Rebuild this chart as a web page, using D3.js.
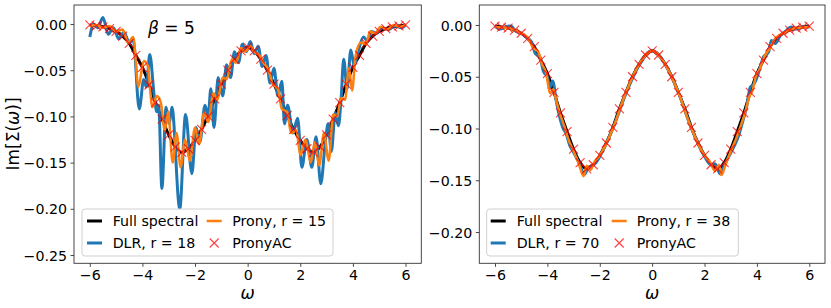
<!DOCTYPE html>
<html><head><meta charset="utf-8">
<script src="https://cdn.jsdelivr.net/npm/d3@7"></script>
<style>
html,body{margin:0;padding:0;background:#fff;}
svg{display:block;font-family:"DejaVu Sans",sans-serif;}
</style></head>
<body><svg id="c" width="831" height="308"></svg>
<script>
// ---------- data ----------
const xTicks = [-6, -4, -2, 0, 2, 4, 6];
const yTicksLeft = [0, -0.05, -0.10, -0.15, -0.20, -0.25];
const yTicksRight = [0, -0.05, -0.10, -0.15, -0.20];

const omegaGrid = [-6,-5.75,-5.5,-5.25,-5,-4.75,-4.5,-4.25,-4,-3.75,-3.5,-3.25,-3,-2.75,-2.5,-2.25,-2,-1.75,-1.5,-1.25,-1,-0.75,-0.5,-0.25,0,
  0.25,0.5,0.75,1,1.25,1.5,1.75,2,2.25,2.5,2.75,3,3.25,3.5,3.75,4,4.25,4.5,4.75,5,5.25,5.5,5.75,6];
const fullSpectral = [-0.001,-0.002,-0.003,-0.005,-0.008,-0.013,-0.021,-0.034,-0.047,-0.065,-0.085,-0.103,-0.120,-0.133,-0.139,-0.135,-0.126,-0.114,-0.099,-0.081,-0.065,-0.050,-0.038,-0.029,-0.025,
  -0.029,-0.038,-0.050,-0.065,-0.081,-0.099,-0.114,-0.126,-0.135,-0.139,-0.133,-0.120,-0.103,-0.085,-0.065,-0.047,-0.034,-0.021,-0.013,-0.008,-0.005,-0.003,-0.002,-0.001];
const pronyACLeft = [-0.001,-0.002,-0.003,-0.005,-0.008,-0.013,-0.021,-0.034,-0.047,-0.066,-0.085,-0.103,-0.120,-0.133,-0.139,-0.135,-0.126,-0.114,-0.100,-0.081,-0.065,-0.050,-0.038,-0.029,-0.025,
  -0.029,-0.038,-0.050,-0.065,-0.081,-0.099,-0.114,-0.126,-0.135,-0.139,-0.133,-0.120,-0.103,-0.085,-0.065,-0.047,-0.034,-0.021,-0.013,-0.008,-0.005,-0.003,-0.002,-0.001];
const pronyACRight = [-0.001,-0.002,-0.003,-0.005,-0.008,-0.013,-0.021,-0.034,-0.047,-0.065,-0.085,-0.103,-0.120,-0.133,-0.139,-0.135,-0.126,-0.114,-0.099,-0.081,-0.065,-0.050,-0.038,-0.029,-0.025,
  -0.029,-0.038,-0.050,-0.065,-0.081,-0.099,-0.114,-0.126,-0.135,-0.139,-0.133,-0.120,-0.103,-0.085,-0.065,-0.047,-0.034,-0.021,-0.013,-0.008,-0.005,-0.003,-0.002,-0.001];

// left panel (beta = 5), DLR r = 18
const dlrLeftOmega = [-6,-5.85,-5.7,-5.5,-5.3,-5.1,-4.9,-4.7,-4.5,-4.35,-4.12,-3.95,-3.85,-3.72,-3.55,-3.45,-3.38,-3.26,-3.1,-2.98,-2.88,-2.58,-2.36,-2.12,-1.96,-1.82,-1.62,-1.5,-1.4,-1.28,-1.12,-0.95,-0.8,-0.65,-0.5,-0.35,-0.2,-0.05,
  0.1,0.25,0.4,0.55,0.7,0.85,1,1.15,1.3,1.4,1.52,1.72,1.9,2.06,2.25,2.44,2.6,2.78,2.95,3.06,3.18,3.33,3.45,3.55,3.65,3.78,3.92,4.05,4.2,4.4,4.55,4.7,4.9,5.1,5.35,5.6,5.85,6];
const dlrLeftValue = [-0.014,0.000,-0.004,0.007,-0.011,-0.004,-0.016,-0.009,-0.020,-0.017,-0.092,-0.060,-0.068,-0.033,-0.078,-0.095,-0.088,-0.178,-0.090,-0.108,-0.090,-0.200,-0.098,-0.162,-0.112,-0.128,-0.088,-0.100,-0.070,-0.112,-0.058,-0.078,-0.044,-0.058,-0.030,-0.042,-0.022,-0.030,
  -0.019,-0.032,-0.024,-0.046,-0.034,-0.064,-0.048,-0.078,-0.062,-0.108,-0.088,-0.118,-0.102,-0.155,-0.125,-0.155,-0.122,-0.173,-0.128,-0.108,-0.138,-0.096,-0.110,-0.082,-0.038,-0.070,-0.028,-0.045,-0.030,-0.014,-0.018,-0.008,-0.010,-0.004,-0.006,-0.002,-0.004,-0.001];
// left panel, Prony r = 15
const pronyLeftOmega = [-6,-5.75,-5.5,-5.25,-5,-4.75,-4.55,-4.35,-4.15,-3.95,-3.8,-3.62,-3.45,-3.3,-3.15,-3.02,-2.85,-2.7,-2.55,-2.38,-2.2,-2,-1.85,-1.65,-1.5,-1.3,-1.15,-0.95,-0.8,-0.6,-0.45,-0.25,-0.1,
  0.1,0.25,0.45,0.6,0.8,0.95,1.15,1.3,1.5,1.65,1.85,2,2.2,2.4,2.55,2.72,2.9,3.08,3.25,3.4,3.55,3.7,3.85,3.97,4.1,4.3,4.5,4.65,4.85,5.05,5.3,5.55,5.8,6];
const pronyLeftValue = [-0.002,-0.001,-0.004,-0.002,-0.008,-0.006,-0.020,-0.014,-0.068,-0.040,-0.045,-0.090,-0.078,-0.085,-0.115,-0.095,-0.150,-0.118,-0.155,-0.125,-0.148,-0.112,-0.130,-0.096,-0.106,-0.075,-0.082,-0.058,-0.060,-0.038,-0.042,-0.026,-0.030,
  -0.024,-0.030,-0.034,-0.042,-0.050,-0.065,-0.070,-0.092,-0.095,-0.118,-0.115,-0.142,-0.125,-0.150,-0.128,-0.153,-0.118,-0.148,-0.098,-0.100,-0.080,-0.082,-0.048,-0.072,-0.035,-0.020,-0.022,-0.008,-0.010,-0.003,-0.006,-0.001,-0.003,-0.001];

// right panel, DLR r = 70
const dlrRightOmega = [-6,-5.8,-5.6,-5.4,-5.2,-5,-4.8,-4.62,-4.45,-4.3,-4.15,-4,-3.9,-3.8,-3.65,-3.52,-3.4,-3.3,-3.15,-3,-2.8,-2.58,-2.45,-2.3,-2.15,-2,-1.5,-1,-0.5,0,
  0.5,1,1.5,2,2.25,2.4,2.6,2.75,2.95,3.15,3.3,3.45,3.6,3.75,3.85,3.95,4.1,4.25,4.45,4.55,4.7,4.9,5.1,5.3,5.5,5.75,6];
const dlrRightValue = [-0.001,-0.004,-0.002,-0.001,-0.006,-0.008,-0.012,-0.016,-0.028,-0.030,-0.045,-0.050,-0.060,-0.054,-0.075,-0.090,-0.100,-0.104,-0.116,-0.123,-0.133,-0.144,-0.138,-0.136,-0.133,-0.127,-0.100,-0.066,-0.039,-0.025,
  -0.038,-0.065,-0.100,-0.127,-0.135,-0.134,-0.144,-0.136,-0.126,-0.116,-0.107,-0.094,-0.080,-0.060,-0.058,-0.054,-0.043,-0.031,-0.026,-0.015,-0.018,-0.010,-0.006,-0.002,-0.004,-0.002,-0.002];
// right panel, Prony r = 38
const pronyRightOmega = [-6,-5.5,-5,-4.75,-4.55,-4.35,-4.2,-4.05,-3.9,-3.78,-3.65,-3.5,-3.35,-3.2,-3,-2.8,-2.62,-2.5,-2.35,-2.2,-2,-1.5,-1,-0.5,0,
  0.5,1,1.5,2,2.2,2.4,2.55,2.65,2.8,3,3.2,3.4,3.55,3.7,3.85,3.95,4.1,4.3,4.5,4.7,5,5.5,6];
const pronyRightValue = [-0.002,-0.003,-0.008,-0.012,-0.022,-0.026,-0.038,-0.046,-0.066,-0.062,-0.074,-0.087,-0.098,-0.110,-0.122,-0.134,-0.146,-0.136,-0.140,-0.132,-0.126,-0.100,-0.065,-0.038,-0.025,
  -0.038,-0.065,-0.100,-0.126,-0.132,-0.141,-0.135,-0.145,-0.135,-0.122,-0.110,-0.096,-0.085,-0.070,-0.062,-0.050,-0.043,-0.030,-0.022,-0.013,-0.008,-0.003,-0.002];

const legendLeft = ["Full spectral", "DLR, r = 18", "Prony, r = 15", "PronyAC"];
const legendRight = ["Full spectral", "DLR, r = 70", "Prony, r = 38", "PronyAC"];

// ---------- drawing ----------
const svg = d3.select("#c");
const C_BLACK = "#000000", C_BLUE = "#1f77b4", C_ORANGE = "#ff7f0e", C_RED = "#ff0000";
const fmt = v => (v === 0 ? "0.00" : d3.format(".2f")(v).replace("-", "\u2212"));
const fmtX = v => String(v).replace("-", "\u2212");

function zip(a, b) { return a.map((x, i) => [x, b[i]]); }

function panel(opt) {
  const g = svg.append("g");
  const x = d3.scaleLinear().domain([-6.6, 6.6]).range([opt.x0, opt.x1]);
  const y = d3.scaleLinear().domain(opt.ydom).range([263.3, 5]);
  const clipId = "clip" + opt.id;
  svg.append("clipPath").attr("id", clipId).append("rect")
    .attr("x", opt.x0).attr("y", 5).attr("width", opt.x1 - opt.x0).attr("height", 258.3);
  const plot = g.append("g").attr("clip-path", `url(#${clipId})`);
  const line = d3.line().x(d => x(d[0])).y(d => y(d[1])).curve(d3.curveMonotoneX);

  plot.append("path").datum(zip(omegaGrid, fullSpectral)).attr("d", line)
    .attr("fill", "none").attr("stroke", C_BLACK).attr("stroke-width", 3);
  plot.append("path").datum(zip(opt.dlrO, opt.dlrV)).attr("d", line)
    .attr("fill", "none").attr("stroke", C_BLUE).attr("stroke-width", 3).attr("stroke-linejoin", "round");
  plot.append("path").datum(zip(opt.prO, opt.prV)).attr("d", line)
    .attr("fill", "none").attr("stroke", C_ORANGE).attr("stroke-width", 2.5).attr("stroke-linejoin", "round");
  const s = 4.5;
  plot.append("g").selectAll("path").data(zip(omegaGrid, opt.ac)).join("path")
    .attr("d", d => { const cx = x(d[0]), cy = y(d[1]);
      return `M${cx - s},${cy - s}L${cx + s},${cy + s}M${cx - s},${cy + s}L${cx + s},${cy - s}`; })
    .attr("stroke", C_RED).attr("stroke-width", 1.1).attr("stroke-opacity", 0.75).attr("fill", "none");

  // axes
  const ax = g.append("g").attr("transform", "translate(0,263.3)")
    .call(d3.axisBottom(x).tickValues(xTicks).tickFormat(fmtX).tickSize(3.5).tickPadding(3.5));
  const ay = g.append("g").attr("transform", `translate(${opt.x0},0)`)
    .call(d3.axisLeft(y).tickValues(opt.yticks).tickFormat(fmt).tickSize(3.5).tickPadding(3.5));
  [ax, ay].forEach(a => {
    a.select(".domain").remove();
    a.selectAll("line").attr("stroke", "#333").attr("stroke-width", 0.9);
    a.selectAll("text").attr("font-family", "DejaVu Sans").attr("font-size", 14.2).attr("fill", "#000");
  });
  ax.selectAll("text").attr("dy", null).attr("y", 17.2).attr("dominant-baseline", "alphabetic");
  ay.selectAll("text").attr("dy", "0.36em");
  // frame
  g.append("rect").attr("x", opt.x0).attr("y", 5).attr("width", opt.x1 - opt.x0).attr("height", 258.3)
    .attr("fill", "none").attr("stroke", "#333").attr("stroke-width", 0.9);
  // x label
  g.append("text").attr("x", (opt.x0 + opt.x1) / 2).attr("y", 298.5).attr("text-anchor", "middle")
    .attr("font-family", "DejaVu Sans").attr("font-style", "italic").attr("font-size", 17).text("ω");

  // legend
  const L = opt.leg;
  const lg = g.append("g");
  lg.append("rect").attr("x", L.x0).attr("y", 209).attr("width", L.x1 - L.x0).attr("height", 47)
    .attr("rx", 3).attr("fill", "#fff").attr("fill-opacity", 0.85).attr("stroke", "#d0d0d0").attr("stroke-width", 1);
  const rows = [221, 243];
  const items = [
    {col: 0, row: 0, color: C_BLACK, w: 3, label: opt.labels[0]},
    {col: 0, row: 1, color: C_BLUE, w: 3, label: opt.labels[1]},
    {col: 1, row: 0, color: C_ORANGE, w: 2.5, label: opt.labels[2]},
    {col: 1, row: 1, color: C_RED, marker: true, label: opt.labels[3]}
  ];
  items.forEach(it => {
    const hx = L.hx[it.col], ty = rows[it.row];
    if (it.marker) {
      const cx = hx + 7.5;
      lg.append("path").attr("d", `M${cx - s},${ty - s}L${cx + s},${ty + s}M${cx - s},${ty + s}L${cx + s},${ty - s}`)
        .attr("stroke", C_RED).attr("stroke-width", 1.1).attr("stroke-opacity", 0.75);
    } else {
      lg.append("line").attr("x1", hx).attr("x2", hx + 15).attr("y1", ty).attr("y2", ty)
        .attr("stroke", it.color).attr("stroke-width", it.w);
    }
    lg.append("text").attr("x", L.tx[it.col]).attr("y", ty + 5.2)
      .attr("font-family", "DejaVu Sans").attr("font-size", 14.2).text(it.label);
  });
  return {x, y, g};
}

panel({id: "L", x0: 74, x1: 421.3, ydom: [-0.259, 0.0206], yticks: yTicksLeft,
  dlrO: dlrLeftOmega, dlrV: dlrLeftValue, prO: pronyLeftOmega, prV: pronyLeftValue, ac: pronyACLeft,
  labels: legendLeft, leg: {x0: 82, x1: 333, hx: [87, 206.7], tx: [112.7, 232.3]}});
panel({id: "R", x0: 479.3, x1: 825, ydom: [-0.2302, 0.0193], yticks: yTicksRight,
  dlrO: dlrRightOmega, dlrV: dlrRightValue, prO: pronyRightOmega, prV: pronyRightValue, ac: pronyACRight,
  labels: legendRight, leg: {x0: 486.7, x1: 738.3, hx: [490.7, 611.7], tx: [516.7, 636.7]}});

// y label (left panel only)
svg.append("text").attr("transform", "translate(19,134) rotate(-90)").attr("text-anchor", "middle")
  .attr("font-family", "DejaVu Sans").attr("font-size", 17)
  .html('Im[Σ(<tspan font-style="italic">ω</tspan>)]');
// beta annotation
svg.append("text").attr("x", 148).attr("y", 33.5).attr("font-family", "DejaVu Sans").attr("font-size", 17)
  .html('<tspan font-style="italic">β</tspan> = 5');
</script></body></html>
